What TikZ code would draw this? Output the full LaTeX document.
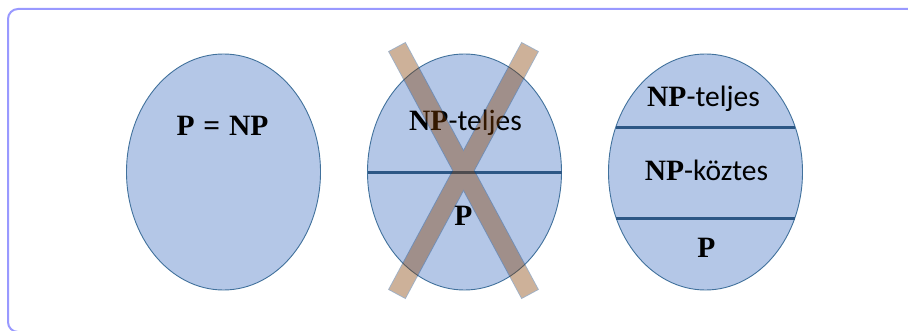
\documentclass[tikz,border=0pt]{standalone}
\usepackage{fontspec}
\setmainfont{Carlito}
\newfontfamily\serifbf{Liberation Serif}
\usepackage{xcolor}
\usepackage{tikz}
\usetikzlibrary{positioning,shapes.geometric}
\definecolor{setfill}{HTML}{B4C7E7}
\definecolor{setline}{HTML}{41719C}
\definecolor{cutline}{HTML}{2C5785}
\definecolor{barfill}{RGB}{130,60,0}
\definecolor{barline}{HTML}{0F3A6E}
\definecolor{framecol}{HTML}{9999FF}
\newcommand{\bNP}{{\serifbf\bfseries NP}}
\newcommand{\bP}{{\serifbf\bfseries P}}

\begin{document}
\begin{tikzpicture}[
  x=1pt, y=1pt,
  node distance=47pt,
  set/.style={ellipse, draw=setline, line width=0.9pt, fill=setfill, minimum width=194pt,
              minimum height=236pt, inner sep=0pt, outer sep=0pt},
  lbl/.style={anchor=base, inner sep=0pt, font=\fontsize{29.5}{34}\selectfont},
  cut/.style={draw=cutline, line width=3pt},
  bar/.style={draw=barline, line width=1.8pt, minimum width=279.5pt, minimum height=18pt,
              inner sep=0pt, outer sep=0pt}
]
\useasboundingbox (0,0) rectangle (908,330);
\clip (0,0) rectangle (908,330);
\draw[framecol, line width=2pt, rounded corners=10pt] (8,321) rectangle (918,-2);
\node[set] (eqset) at (223.5,158) {};
\node[set, right=of eqset] (twoset) {};
\node[set, right=of twoset] (threeset) {};
\draw[cut] (twoset.west) -- (twoset.east);
\draw[cut] ([shift={(-89.8,44.5)}]threeset.center) -- ([shift={(89.8,44.5)}]threeset.center);
\draw[cut] ([shift={(-89.2,-46.5)}]threeset.center) -- ([shift={(89.2,-46.5)}]threeset.center);
\node[lbl] (eqlbl) at ([shift={(-1,37)}]eqset.center) {\serifbf\bfseries P\hspace{0.3em}=\hspace{0.3em}NP};
\node[lbl] (twotop) at ([shift={(1,42)}]twoset.center) {\bNP-teljes};
\node[lbl] (twobot) at ([shift={(-1,-53)}]twoset.center) {\bP};
\node[lbl] (npc) at ([shift={(-2,65)}]threeset.center) {\bNP-teljes};
\node[lbl] (npi) at ([shift={(1,-8)}]threeset.center) {\bNP-köztes};
\node[lbl] (plbl) at ([shift={(1,-85)}]threeset.center) {\bP};
\begin{scope}[transparency group, opacity=0.4]
  \node[bar, rotate=-61.7] (barA) at ([shift={(-1,1.5)}]twoset.center) {};
  \node[bar, rotate=61.7] (barB) at ([shift={(-1,1.5)}]twoset.center) {};
  \fill[barfill] (barA.north west) -- (barA.north east) -- (barA.south east) -- (barA.south west) -- cycle;
  \fill[barfill] (barB.north west) -- (barB.north east) -- (barB.south east) -- (barB.south west) -- cycle;
\end{scope}
\end{tikzpicture}
\end{document}
